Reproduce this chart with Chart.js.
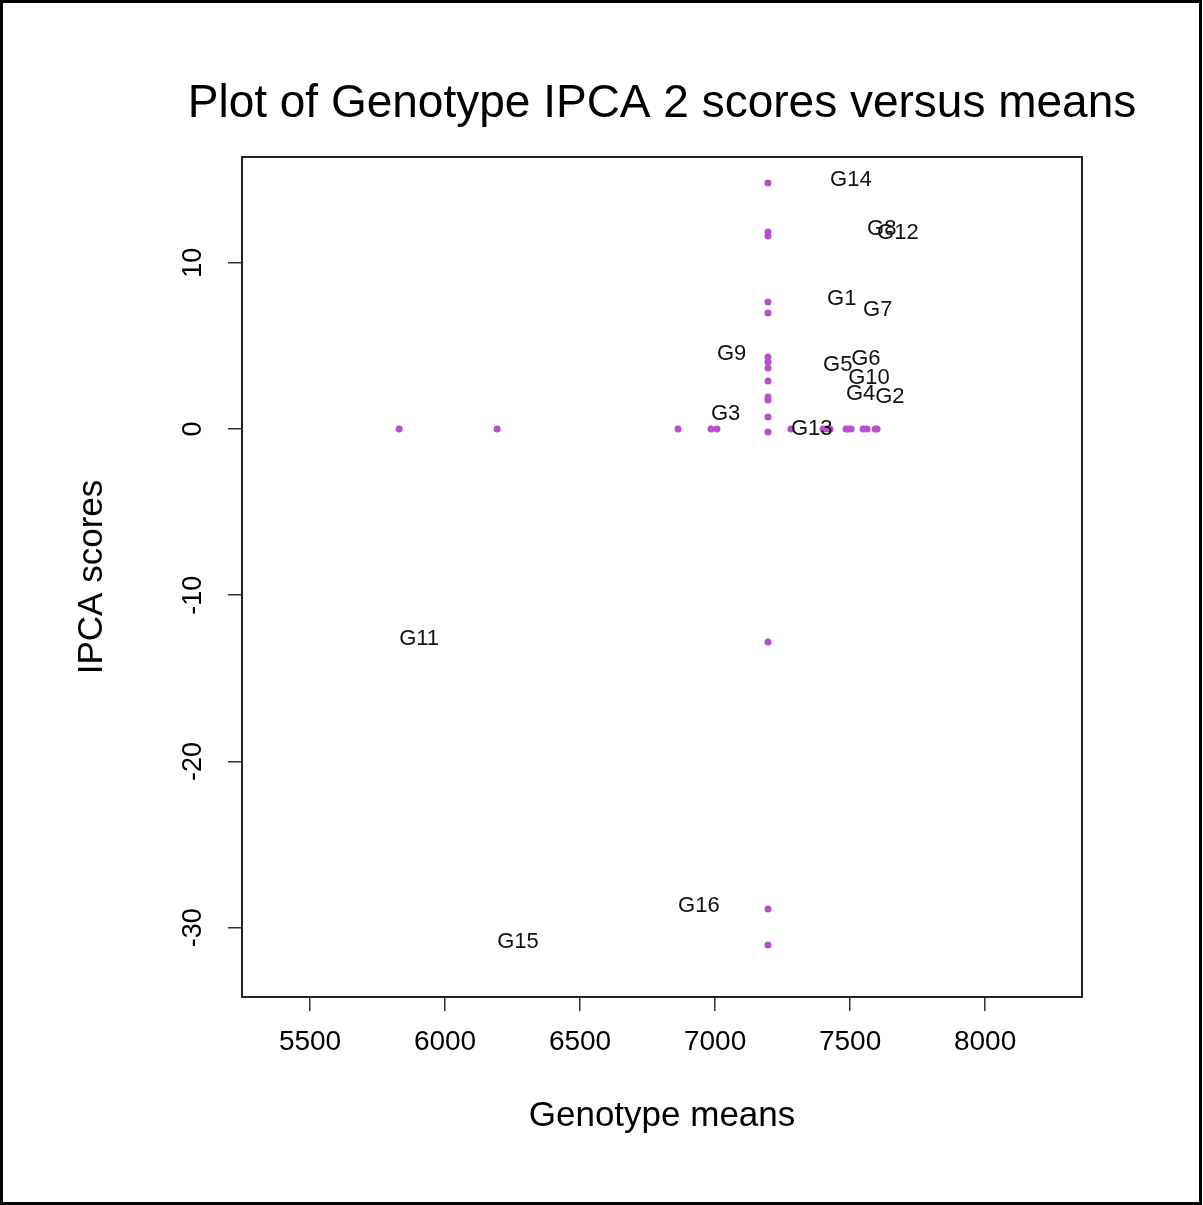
<!DOCTYPE html>
<html>
<head>
<meta charset="utf-8">
<script src="https://cdn.jsdelivr.net/npm/chart.js@4/dist/chart.umd.min.js"></script>
<style>
  html, body { margin: 0; padding: 0; background: #fff; }
  canvas { display: block; }
</style>
</head>
<body>
<canvas id="plot" width="1203" height="1205"></canvas>
<script>
// Genotype names, their means and IPCA 2 scores
const genotypes = ['G1','G2','G3','G4','G5','G6','G7','G8','G9','G10','G11','G12','G13','G14','G15','G16'];
const genotypeMeans = [7415, 7593, 6985, 7485, 7400, 7504, 7548, 7563, 7007, 7493, 5830, 7600, 7281, 7426, 6193, 6863];
const ipca2Scores = [7.64, 1.74, 0.72, 1.92, 3.67, 4.03, 6.98, 11.85, 4.33, 2.89, -12.81, 11.61, -0.18, 14.80, -31.04, -28.87];
const grandMean = 7196;

// Axis ticks and limits
const xTickValues = [5500, 6000, 6500, 7000, 7500, 8000];
const yTickValues = [-30, -20, -10, 0, 10];
const xLimits = [5248, 8359];
const yLimits = [-34.17, 16.36];

const titleText = 'Plot of Genotype IPCA 2 scores versus means';

const FONT = 'Liberation Sans, Arial, Helvetica, sans-serif';
Chart.defaults.font.family = FONT;
Chart.defaults.color = '#000';

const pointColor = '#b94fcd';

// Scores plotted against the grand mean, and means plotted on the zero line
const scorePoints = ipca2Scores.map(s => ({ x: grandMean, y: s }));
const meanPoints = genotypeMeans.map(m => ({ x: m, y: 0 }));

const framePlugin = {
  id: 'frame',
  beforeDraw(chart) {
    const ctx = chart.ctx;
    ctx.save();
    ctx.fillStyle = '#fff';
    ctx.fillRect(0, 0, chart.width, chart.height);
    ctx.restore();
  },
  afterDraw(chart) {
    const { ctx, chartArea: a } = chart;
    ctx.save();
    // plot box
    ctx.strokeStyle = '#222';
    ctx.lineWidth = 2;
    ctx.strokeRect(a.left, a.top, a.right - a.left, a.bottom - a.top);
    // main title, centred over the plot box
    ctx.fillStyle = '#000';
    ctx.font = '46px ' + FONT;
    ctx.textAlign = 'center';
    ctx.textBaseline = 'middle';
    ctx.fillText(titleText, (a.left + a.right) / 2, 104);
    // outer frame
    ctx.strokeStyle = '#000';
    ctx.lineWidth = 3;
    ctx.strokeRect(1.5, 1.5, chart.width - 4, chart.height - 3);
    ctx.restore();
  }
};

const genotypeLabels = {
  id: 'genotypeLabels',
  afterDatasetsDraw(chart) {
    const { ctx, scales: { x, y } } = chart;
    ctx.save();
    ctx.font = '22px ' + FONT;
    ctx.fillStyle = '#111';
    ctx.textAlign = 'left';
    ctx.textBaseline = 'middle';
    genotypes.forEach((g, i) => {
      const px = x.getPixelForValue(genotypeMeans[i]);
      const py = y.getPixelForValue(ipca2Scores[i]);
      ctx.fillText(g, px, py - 3);
    });
    ctx.restore();
  }
};

new Chart(document.getElementById('plot'), {
  type: 'scatter',
  data: {
    datasets: [
      { data: scorePoints, backgroundColor: pointColor, borderWidth: 0, pointRadius: 3.5 },
      { data: meanPoints, backgroundColor: pointColor, borderWidth: 0, pointRadius: 3.5 }
    ]
  },
  options: {
    responsive: false,
    animation: false,
    devicePixelRatio: 1,
    layout: { padding: { left: 0, right: 121, top: 157, bottom: 0 } },
    plugins: {
      legend: { display: false },
      tooltip: { enabled: false },
      title: { display: false }
    },
    scales: {
      x: {
        type: 'linear',
        min: xLimits[0],
        max: xLimits[1],
        afterBuildTicks: s => { s.ticks = xTickValues.map(v => ({ value: v })); },
        afterFit: s => { s.height = 208; },
        grid: { drawOnChartArea: false, drawTicks: true, tickLength: 14, color: '#333', lineWidth: 1.5 },
        border: { display: false },
        ticks: { font: { size: 28 }, color: '#000', padding: 14, maxRotation: 0, autoSkip: false, callback: v => String(v) },
        title: { display: true, text: 'Genotype means', font: { size: 35 }, color: '#000', padding: { top: 0, bottom: 68 } }
      },
      y: {
        type: 'linear',
        min: yLimits[0],
        max: yLimits[1],
        afterBuildTicks: s => { s.ticks = yTickValues.map(v => ({ value: v })); },
        afterFit: s => { s.width = 242; },
        grid: { drawOnChartArea: false, drawTicks: true, tickLength: 14, color: '#333', lineWidth: 1.5 },
        border: { display: false },
        ticks: { font: { size: 27 }, color: '#000', padding: 15, minRotation: 90, maxRotation: 90, crossAlign: 'center', autoSkip: false, callback: v => String(v) },
        title: { display: true, text: 'IPCA scores', font: { size: 35 }, color: '#000', padding: { top: 71, bottom: 0 } }
      }
    }
  },
  plugins: [framePlugin, genotypeLabels]
});
</script>
</body>
</html>
